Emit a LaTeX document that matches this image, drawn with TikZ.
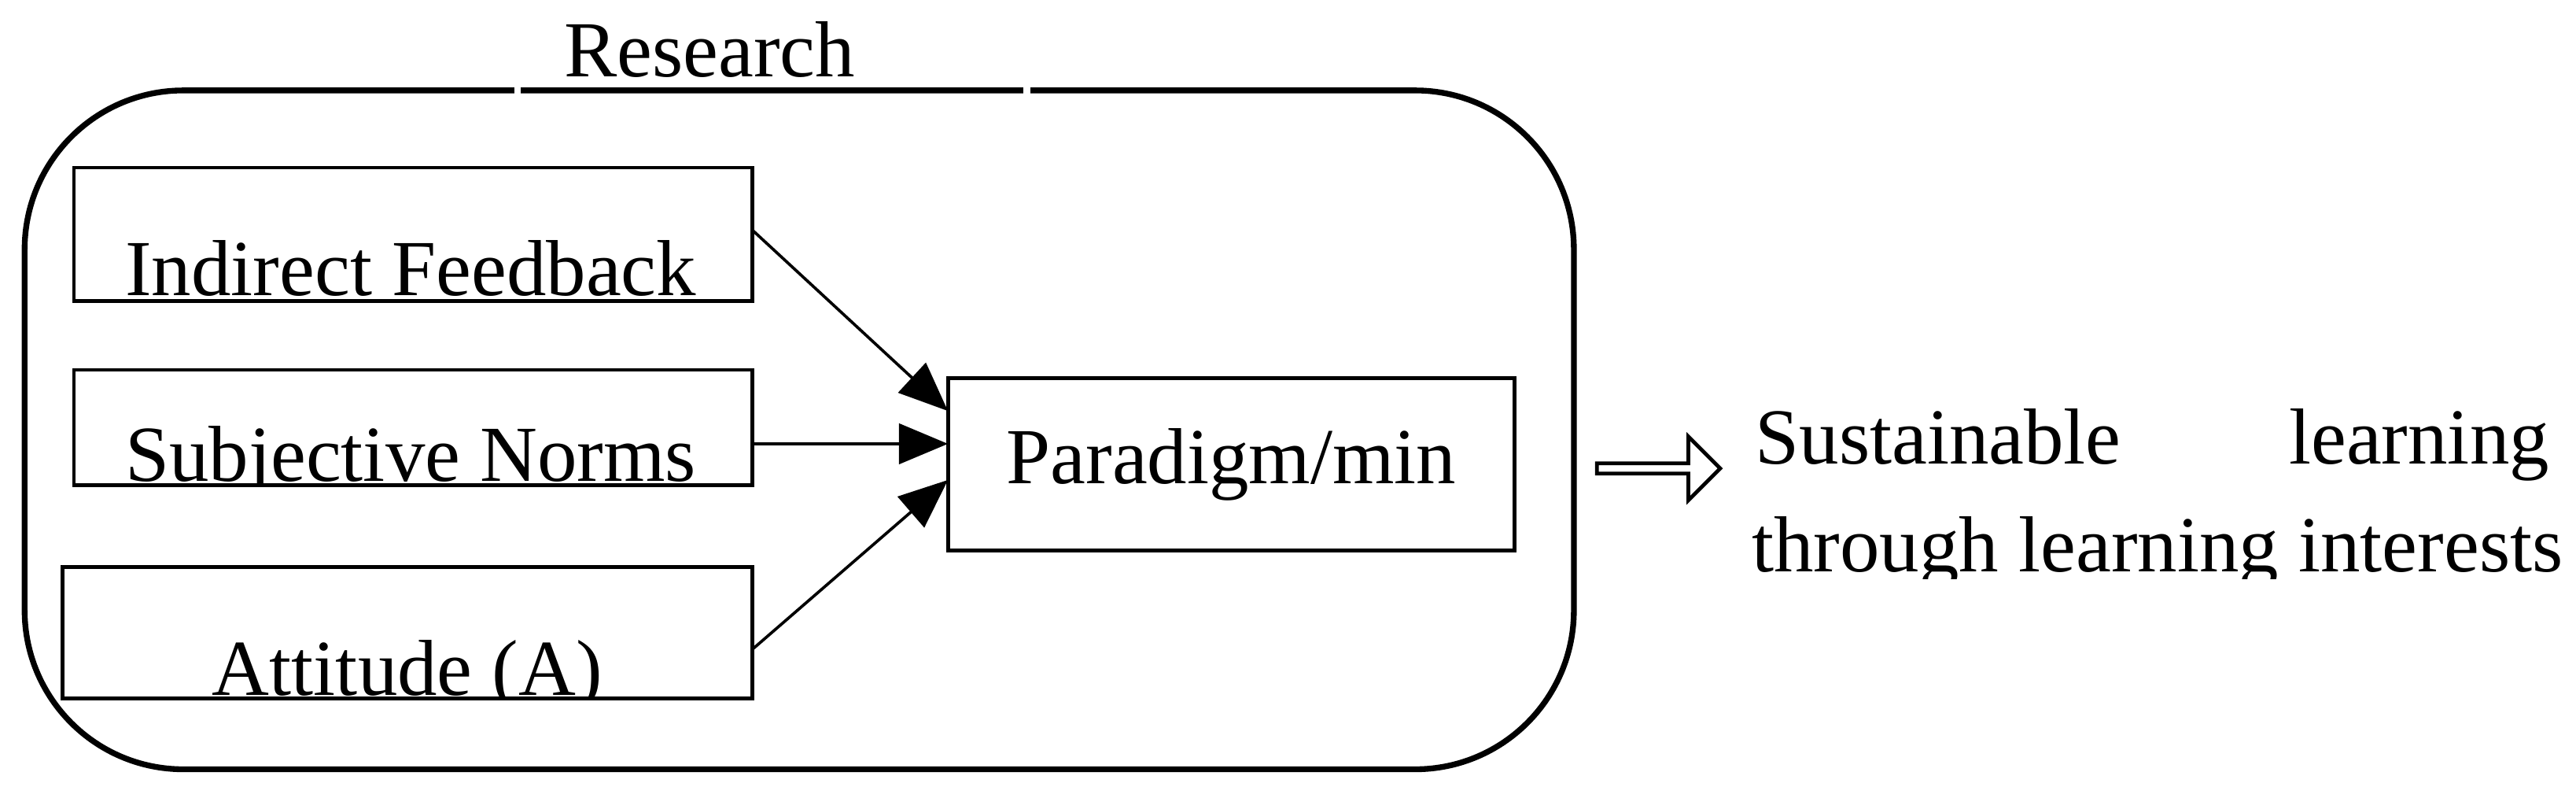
\documentclass[tikz,border=0pt]{standalone}
\usepackage{fontspec}
\setmainfont{Liberation Serif}
\usetikzlibrary{arrows.meta,shapes.arrows}
\begin{document}
\begin{tikzpicture}[x=0.02cm,y=-0.02cm,
  txt/.style={font=\fontsize{27.5}{33}\selectfont,inner sep=0pt},
  box/.style={draw,line width=1.3pt},
  arr/.style={line width=1pt,-{Triangle[length=17pt,width=14pt]}}]
\useasboundingbox (0,0) rectangle (1568,485);
\draw[line width=2pt,rounded corners=55] (15,55) rectangle (958,468);
\draw[white,line width=3pt] (313,55) -- (317,55) (623,55) -- (627,55);
\node[txt] (title) at (432,30) {Research};
% boxes
\draw[box] (45,102) rectangle (458,183);
\draw[box] (45,225) rectangle (458,295);
\draw[box] (38,345) rectangle (458,425);
\begin{scope}\clip (46,103) rectangle (457,182);
\node[txt,anchor=base] (b1) at (250,180) {Indirect Feedback};\end{scope}
\begin{scope}\clip (46,226) rectangle (457,294);
\node[txt,anchor=base] (b2) at (250,293) {Subjective Norms};\end{scope}
\begin{scope}\clip (39,346) rectangle (457,424);
\node[txt,anchor=base] (b3) at (248,423) {Attitude (A)};\end{scope}
\coordinate (s1) at (458,140);
\coordinate (s2) at (458,270);
\coordinate (s3) at (458,395);
\node[box,minimum width=345*0.02cm,minimum height=105*0.02cm,txt] (p) at (749.5,282.5) {Paradigm/min};
\coordinate (t1) at (577,250);
\coordinate (t2) at (577,270);
\coordinate (t3) at (577,292);
\draw[arr] (s1) -- (t1);
\draw[arr] (s2) -- (t2);
\draw[arr] (s3) -- (t3);
\node[single arrow,draw,line width=1.3pt,minimum height=75*0.02cm,single arrow head extend=6pt,minimum width=22pt,inner sep=0.5pt] (ha) at (1008,285) {};
\node[txt,anchor=base west] (o1) at (1068,282) {Sustainable};
\node[txt,anchor=base east] (o1b) at (1552,282) {learning};
\begin{scope}\clip (1060,300) rectangle (1568,352);
\node[txt,anchor=base west] (o2) at (1066,348) {through learning interests};\end{scope}
\end{tikzpicture}
\end{document}
